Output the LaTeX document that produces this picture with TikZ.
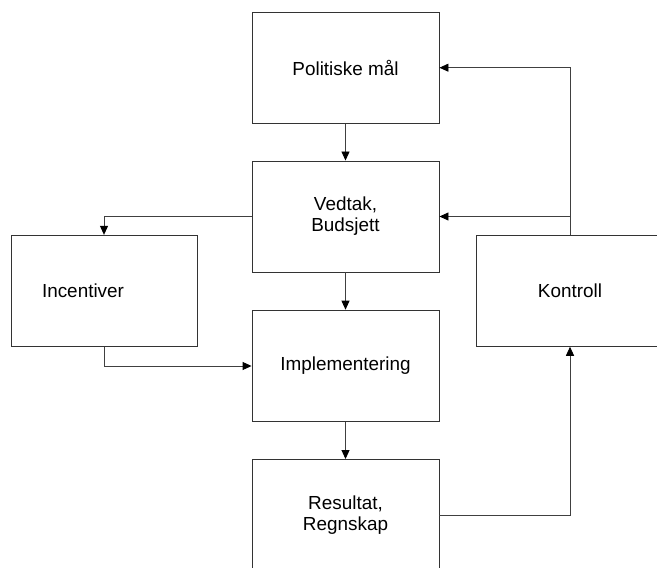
\documentclass[tikz,border=0pt]{standalone}
\usepackage{fontspec}
\setmainfont{Liberation Sans}
\usetikzlibrary{arrows.meta}
\begin{document}
\begin{tikzpicture}[x=1bp,y=-1bp,
  box/.style={draw=black!80, line width=0.9bp, minimum width=187bp, minimum height=111bp, inner sep=0pt, align=center, font=\fontsize{18.9bp}{21bp}\selectfont},
  lbl/.style={inner sep=0pt, font=\fontsize{18.9bp}{21bp}\selectfont},
  conn/.style={draw=black!75, line width=0.9bp, -{Triangle[length=9bp,width=8bp,color=black]}}]
\useasboundingbox (0,0) rectangle (657,568);
\node[box] (pol) at (345.5,67.7) {Politiske mål};
\node[box] (ved) at (345.5,216.5) {Vedtak,\\Budsjett};
\node[box, minimum height=111.7bp] (imp) at (345.5,366) {Implementering};
\node[box] (res) at (345.5,515) {Resultat,\\Regnskap};
\node[box, minimum width=186bp] (inc) at (104,290.8) {};
\node[lbl] (inct) at (83,291) {Incentiver};
\node[box, minimum width=188bp] (kon) at (570,290.8) {Kontroll};
\draw[conn] (pol.south) -- (ved.north);
\draw[conn] (ved.south) -- (imp.north);
\draw[conn] (imp.south) -- (res.north);
\draw[conn] (ved.west) -| (inc.north);
\draw[conn] (inc.south) |- (imp.west);
\draw[conn] (res.east) -| (kon.south);
\draw[conn] (kon.north) |- (pol.east);
\draw[conn] (kon.north) |- (ved.east);
\end{tikzpicture}
\end{document}
